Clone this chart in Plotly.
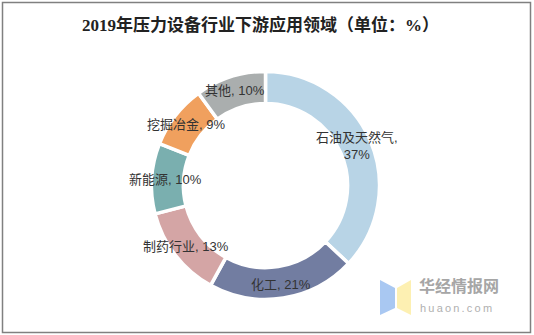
import math
import plotly.graph_objects as go

# Downstream application share of the pressure-equipment industry, 2019 (%)
categories = ["石油及天然气", "化工", "制药行业", "新能源", "挖掘冶金", "其他"]
shares = [37, 21, 13, 10, 9, 10]
colors = ["#B8D4E6", "#727DA1", "#D4A5A5", "#7AAFAF", "#F0A05E", "#AAAEAE"]
label_text = ["石油及天然气,<br>37%", "化工, 21%", "制药行业, 13%", "新能源, 10%", "挖掘冶金, 9%", "其他, 10%"]

W, H = 534, 335
cx, cy, R = 265.5, 185.5, 114  # donut centre and outer radius (px)
label_r = 100                   # radius at which slice labels sit (px)

fig = go.Figure(go.Pie(
    labels=categories,
    values=shares,
    sort=False,
    direction="clockwise",
    rotation=0,
    hole=0.72,
    marker=dict(colors=colors, line=dict(color="#FFFFFF", width=3.5)),
    textinfo="none",
    hoverinfo="label+percent",
    showlegend=False,
    domain=dict(x=[(cx - R) / W, (cx + R) / W], y=[1 - (cy + R) / H, 1 - (cy - R) / H]),
))

# slice labels placed at the mid-angle of each slice
total = sum(shares)
cum = 0
annotations = []
for text, v in zip(label_text, shares):
    mid = (cum + v / 2) / total * 2 * math.pi
    cum += v
    px = cx + label_r * math.sin(mid)
    py = cy - label_r * math.cos(mid)
    annotations.append(dict(
        x=px / W, y=1 - py / H, xref="paper", yref="paper",
        text=text, showarrow=False, xanchor="center", yanchor="middle",
        font=dict(family="Liberation Sans, Noto Sans CJK SC", size=13, color="#333333"),
    ))

# title
annotations.append(dict(
    x=260 / W, y=1 - 25.5 / H, xref="paper", yref="paper",
    text="<b>2019年压力设备行业下游应用领域（单位：%）</b>", showarrow=False,
    xanchor="center", yanchor="middle",
    font=dict(family="Liberation Serif, Noto Sans CJK SC", size=17, color="#222222"),
))

# watermark text
annotations.append(dict(
    x=418 / W, y=1 - 298 / H, xref="paper", yref="paper",
    text="<b>华经情报网</b>", showarrow=False, xanchor="left", yanchor="bottom",
    font=dict(family="Noto Sans CJK SC", size=16, color="#A6A6A6"),
    borderpad=0,
))
annotations.append(dict(
    x=419 / W, y=1 - 301 / H, xref="paper", yref="paper",
    text="h\u2009u\u2009a\u2009o\u2009n\u2009.\u2009c\u2009o\u2009m", showarrow=False,
    xanchor="left", yanchor="top",
    font=dict(family="Liberation Sans", size=11, color="#B0B0B0"),
    borderpad=0,
))


def pp(x, y):
    return f"{x / W:.5f},{1 - y / H:.5f}"


shapes = [
    # outer frame
    dict(type="rect", xref="paper", yref="paper",
         x0=2.5 / W, x1=530.5 / W, y0=1 - 332.5 / H, y1=1 - 2.5 / H,
         line=dict(color="#808080", width=1.5), fillcolor="rgba(0,0,0,0)"),
    # watermark logo
    dict(type="path", xref="paper", yref="paper",
         path=f"M{pp(380, 280)} L{pp(395, 288)} L{pp(395, 308)} L{pp(380, 315)} Z",
         fillcolor="#A9C8F2", line=dict(width=0)),
    dict(type="path", xref="paper", yref="paper",
         path=f"M{pp(397, 288)} L{pp(411, 280)} L{pp(411, 315)} L{pp(397, 308)} Z",
         fillcolor="#FDF0B2", line=dict(width=0)),
]

fig.update_layout(
    width=W, height=H,
    margin=dict(l=0, r=0, t=0, b=0),
    paper_bgcolor="#FFFFFF",
    plot_bgcolor="#FFFFFF",
    annotations=annotations,
    shapes=shapes,
)

fig.write_html("out.html")
